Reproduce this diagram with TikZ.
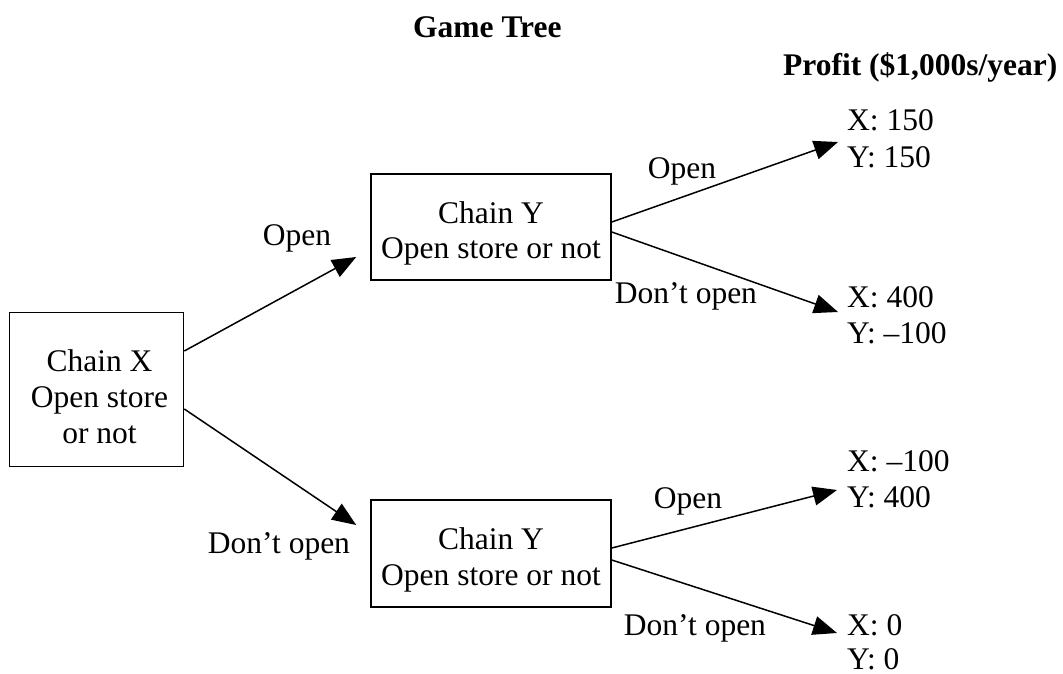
\documentclass[tikz,border=0pt]{standalone}
\usepackage{fontspec}
\setmainfont{Liberation Serif}
\usetikzlibrary{arrows.meta}
\tikzset{
  decbox/.style={draw, line width=1.6pt, inner sep=0pt},
  txt/.style={inner sep=0pt, anchor=base, font=\fontsize{31.5}{36}\selectfont},
  ttl/.style={inner sep=0pt, anchor=base west, font=\fontsize{31.5}{36}\selectfont\bfseries},
  pay/.style={inner sep=0pt, anchor=base west, font=\fontsize{31.5}{36}\selectfont},
  arr/.style={line width=1.5pt, -{Triangle[length=24pt,width=19pt]}}
}
\begin{document}
\begin{tikzpicture}[x=1pt,y=-1pt]
\useasboundingbox (0,0) rectangle (1063,673);

% titles
\node[ttl] (title) at (413,37) {Game Tree};
\node[ttl] (profit) at (783,75) {Profit (\$1,000s/year)};

% decision boxes
\node[decbox, minimum width=174pt, minimum height=154pt] (cx) at (96.5,389.5) {};
\node[decbox, minimum width=240pt, minimum height=106pt] (cy1) at (491,227) {};
\node[decbox, minimum width=240pt, minimum height=107pt] (cy2) at (491,553.5) {};

% box texts
\node[txt] (cxa) at (99.5,371) {Chain X};
\node[txt] (cxb) at (99.5,407) {Open store};
\node[txt] (cxc) at (99.5,443) {or not};
\node[txt] (cy1a) at (491,223) {Chain Y};
\node[txt] (cy1b) at (491,258) {Open store or not};
\node[txt] (cy2a) at (491,549) {Chain Y};
\node[txt] (cy2b) at (491,585) {Open store or not};

% payoffs
\node[pay] (p1x) at (847,130) {X: 150};
\node[pay] (p1y) at (847,167) {Y: 150};
\node[pay] (p2x) at (847,307) {X: 400};
\node[pay] (p2y) at (847,343) {Y: –100};
\node[pay] (p3x) at (847,471) {X: –100};
\node[pay] (p3y) at (847,507) {Y: 400};
\node[pay] (p4x) at (847,635) {X: 0};
\node[pay] (p4y) at (847,669) {Y: 0};

% branch labels
\node[txt] (l1) at (297,245) {Open};
\node[txt] (l2) at (279,553) {Don’t open};
\node[txt] (l3) at (682,178) {Open};
\node[txt] (l4) at (686,303) {Don’t open};
\node[txt] (l5) at (688,508) {Open};
\node[txt] (l6) at (695,635) {Don’t open};

% connectors
\draw[arr] ([yshift=38.5pt]cx.east) -- ([xshift=-14pt,yshift=-30pt]cy1.west);
\draw[arr] ([yshift=-19.5pt]cx.east) -- ([xshift=-14pt,yshift=28.5pt]cy2.west);
\draw[arr] ([yshift=5pt]cy1.east) -- ([xshift=-9pt,yshift=-12pt]p1x.base west);
\draw[arr] ([yshift=-5pt]cy1.east) -- ([xshift=-9pt,yshift=-5pt]p2x.base west);
\draw[arr] ([yshift=5.5pt]cy2.east) -- ([xshift=-10pt,yshift=-19pt]p3x.base west);
\draw[arr] ([yshift=-6.5pt]cy2.east) -- ([xshift=-10pt,yshift=2pt]p4x.base west);
\end{tikzpicture}
\end{document}
